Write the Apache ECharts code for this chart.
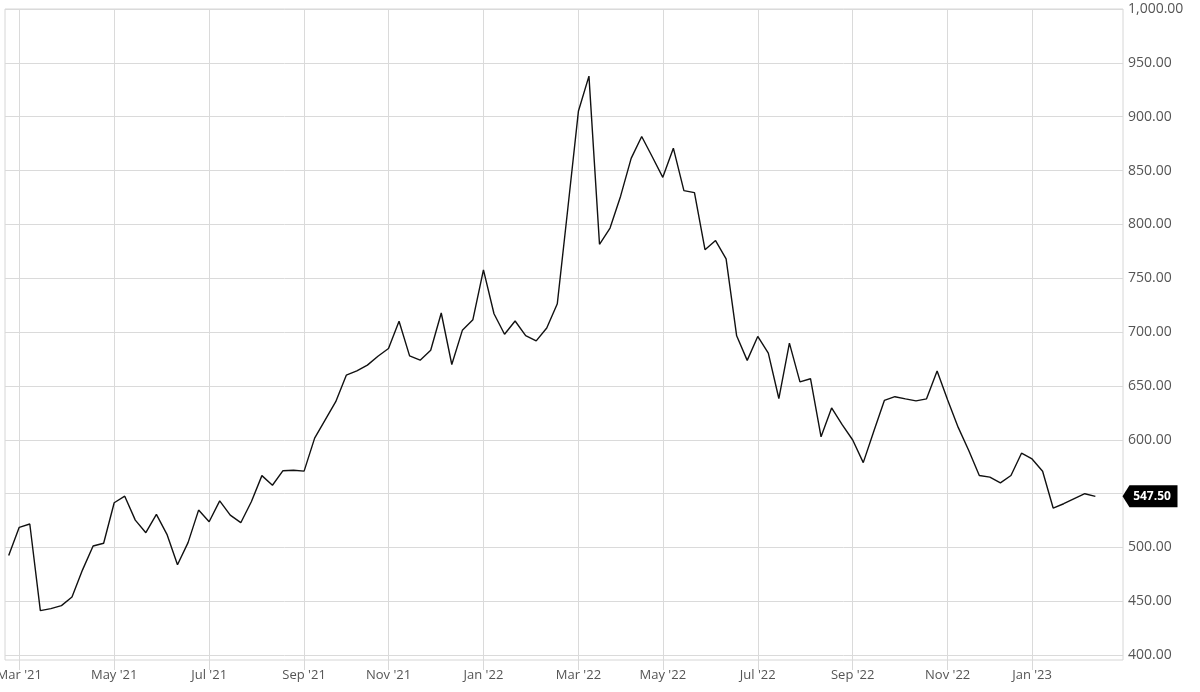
<!DOCTYPE html>
<html>
<head>
<meta charset="utf-8">
<script src="https://cdn.jsdelivr.net/npm/echarts@6/dist/echarts.min.js"></script>
<style>
html,body{margin:0;padding:0;background:#fff;}
#chart{width:1200px;height:692px;}
</style>
</head>
<body>
<div id="chart"></div>
<script>
// Weekly closing prices, first week = 22 Feb 2021 (index 0), last = 13 Feb 2023 (index 103)
const prices = [
  492.5, 518.7, 521.8, 441.3, 443.2, 446.0, 454.0, 479.2, 501.4, 503.9,
  541.5, 547.6, 525.4, 513.7, 530.7, 512.2, 483.9, 504.5, 534.7, 523.9,
  543.3, 530.0, 523.0, 542.4, 566.7, 557.8, 571.3, 571.7, 570.9, 601.5,
  618.5, 635.4, 660.0, 664.0, 669.3, 677.6, 684.7, 710.0, 677.9, 673.9,
  683.1, 717.7, 669.9, 701.6, 711.5, 757.7, 717.0, 698.0, 710.3, 696.7,
  691.8, 703.8, 726.3, 815.0, 905.0, 937.7, 781.5, 796.6, 826.2, 861.3,
  881.6, 862.8, 843.7, 870.8, 831.4, 829.5, 776.5, 785.0, 768.0, 696.5,
  673.7, 695.9, 680.5, 638.3, 689.7, 653.7, 656.7, 602.8, 629.6, 614.0,
  599.8, 578.8, 608.0, 636.5, 640.0, 638.0, 636.1, 638.0, 663.9, 637.0,
  611.5, 590.0, 566.8, 565.3, 560.0, 566.8, 587.5, 582.2, 570.8, 536.6,
  540.6, 545.3, 549.9, 547.5
];
// week index of the first week of each labelled month
const tickWeekIndex = [1, 10, 19, 28, 36, 45, 54, 62, 71, 80, 89, 97];
const tickLabels = ["Mar '21", "May '21", "Jul '21", "Sep '21", "Nov '21", "Jan '22",
                    "Mar '22", "May '22", "Jul '22", "Sep '22", "Nov '22", "Jan '23"];
const priceTicks = [400, 450, 500, 550, 600, 650, 700, 750, 800, 850, 900, 950, 1000];

const xMin = -0.35, xMax = 105.62;
const lastValue = prices[prices.length - 1];
const seriesData = prices.map((v, i) => [i, v]);
const fmt2 = v => Number(v).toLocaleString('en-US', {minimumFractionDigits: 2, maximumFractionDigits: 2});

const chart = echarts.init(document.getElementById('chart'), null, {renderer: 'canvas'});
chart.setOption({
  animation: false,
  backgroundColor: '#ffffff',
  grid: {
    left: 5, right: 77, top: 9, bottom: 32,
    outerBoundsMode: 'none',
    containLabel: false,
    show: true, borderColor: '#d6d6d6', borderWidth: 1, backgroundColor: 'transparent'
  },
  xAxis: {
    type: 'value',
    min: xMin, max: xMax,
    axisLine: {show: false},
    axisTick: {show: true, customValues: tickWeekIndex, length: 10, lineStyle: {color: '#d9d9d9', width: 1}},
    axisLabel: {
      customValues: tickWeekIndex,
      formatter: v => tickLabels[tickWeekIndex.indexOf(v)] || '',
      color: '#555', fontFamily: 'Open Sans', fontSize: 13, margin: 9
    },
    splitLine: {show: true, lineStyle: {color: '#dadada', width: 1}}
  },
  yAxis: {
    type: 'value',
    position: 'right',
    min: 395.5, max: 1000,
    axisLine: {show: false},
    axisTick: {show: false, customValues: priceTicks},
    axisLabel: {
      customValues: priceTicks,
      formatter: v => fmt2(v),
      color: '#555', fontFamily: 'Open Sans', fontSize: 14, margin: 5
    },
    splitLine: {show: true, lineStyle: {color: '#dadada', width: 1}}
  },
  series: [{
    type: 'line',
    data: seriesData,
    showSymbol: false,
    symbol: 'none',
    lineStyle: {color: '#111', width: 1.4},
    silent: true,
    markPoint: {
      silent: true,
      symbol: 'path://M0,11 L7,0 L55,0 L55,22 L7,22 Z',
      symbolSize: [55, 22],
      symbolKeepAspect: false,
      symbolOffset: [27, 0],
      itemStyle: {color: '#000'},
      label: {show: true, color: '#fff', fontWeight: 'bold', fontFamily: 'Open Sans', fontSize: 12,
              formatter: () => fmt2(lastValue), offset: [2, 0]},
      data: [{coord: [xMax, lastValue], value: lastValue}]
    }
  }]
});
</script>
</body>
</html>
